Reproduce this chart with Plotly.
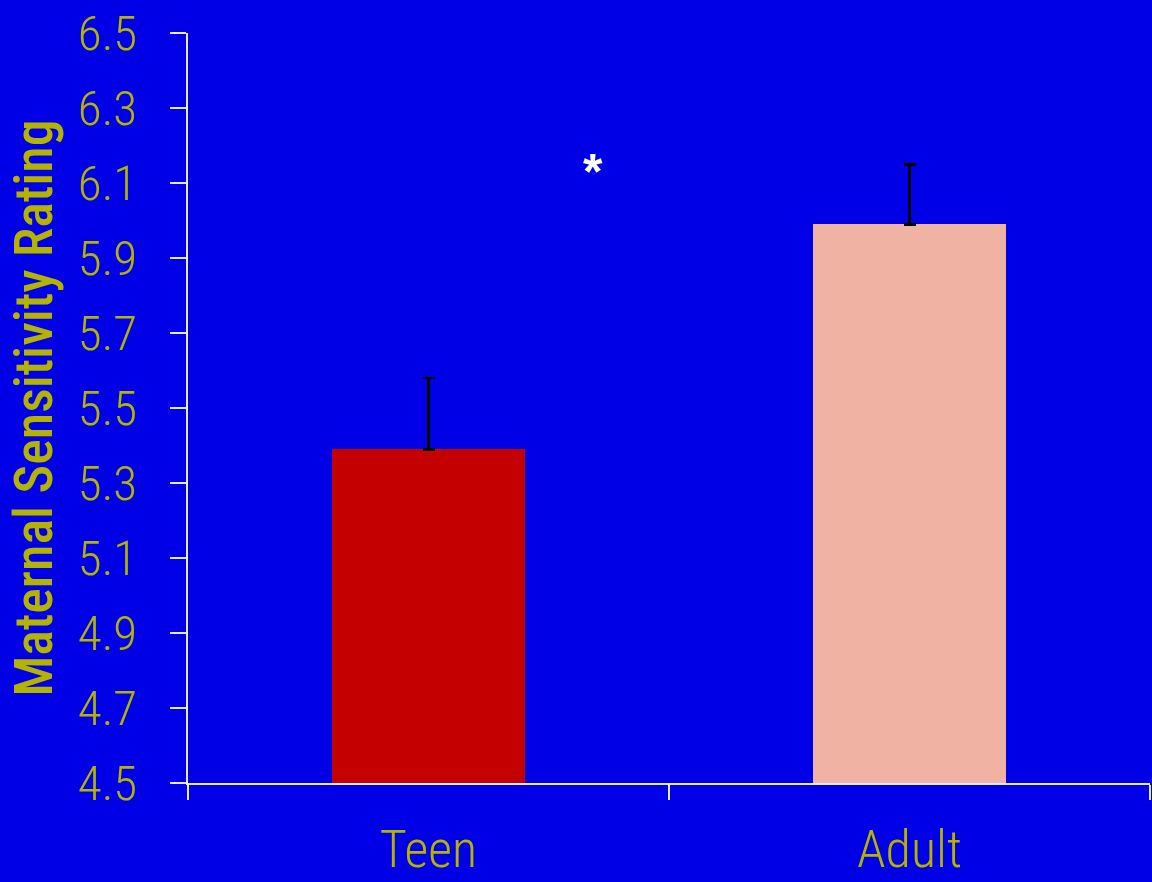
import plotly.graph_objects as go

categories = ["Teen", "Adult"]
means = [5.39, 5.99]
err_plus = [0.19, 0.16]
bar_colors = ["#C40000", "#F0B3A3"]
y_ticks = [4.5, 4.7, 4.9, 5.1, 5.3, 5.5, 5.7, 5.9, 6.1, 6.3, 6.5]
star_pos = (0.342, 6.15)

FONT = "Liberation Sans Narrow, Roboto Condensed, DejaVu Sans Condensed, Liberation Sans, sans-serif"
TXT = "#B3B300"
BG = "#0000E6"
AX = "#E8E8F0"

fig = go.Figure()
fig.add_trace(go.Bar(
    x=categories, y=means, width=0.4,
    marker=dict(color=bar_colors, line=dict(width=0)),
    error_y=dict(type="data", symmetric=False, array=err_plus,
                 arrayminus=[0, 0], color="black", thickness=2.5, width=6),
))

fig.add_annotation(x=star_pos[0], y=star_pos[1], text="<b>*</b>", showarrow=False,
                   font=dict(family="Liberation Sans, sans-serif", size=50, color="white"),
                   xref="x", yref="y", yshift=-8)

fig.update_layout(
    width=1152, height=882,
    margin=dict(l=188, r=2, t=33, b=95),
    paper_bgcolor=BG, plot_bgcolor=BG,
    showlegend=False,
    font=dict(family=FONT, color=TXT),
    bargap=0,
)
fig.update_xaxes(
    type="category", range=[-0.5, 1.5],
    showline=True, linecolor=AX, linewidth=2,
    ticks="outside", tickson="boundaries", ticklen=15, tickcolor=AX, tickwidth=2,
    tickfont=dict(family=FONT, size=52, color=TXT, weight=300),
    ticklabelstandoff=20,
    showgrid=False, zeroline=False,
)
fig.update_yaxes(
    range=[4.5, 6.5], tickvals=y_ticks, ticktext=[f"{v:.1f}" for v in y_ticks],
    showline=True, linecolor=AX, linewidth=2,
    ticks="outside", ticklen=16, tickcolor=AX, tickwidth=2,
    tickfont=dict(family=FONT, size=49, color=TXT, weight=300),
    ticklabelstandoff=23,
    showgrid=False, zeroline=False,
    title=dict(text="Maternal Sensitivity Rating",
               font=dict(family=FONT, size=54, color=TXT, weight=500), standoff=8),
)

fig.write_html("out.html", config={"displayModeBar": False},
               post_script="document.body.style.margin='0';document.body.style.overflow='hidden';")
